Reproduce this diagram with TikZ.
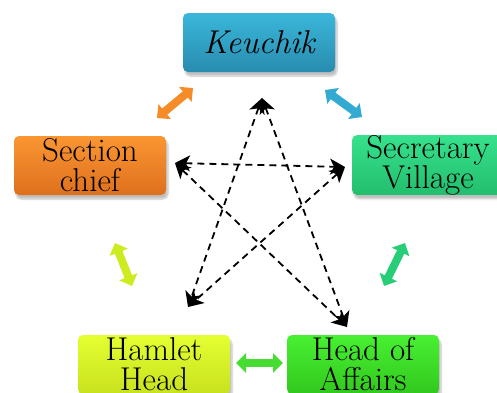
\documentclass[tikz,border=0pt]{standalone}
\usepackage{fontspec}
\setmainfont{Latin Modern Roman}
\usetikzlibrary{arrows.meta,shadows,shadows.blur}
\begin{document}
\begin{tikzpicture}[x=1pt,y=-1pt,
  box/.style={rounded corners=5pt, minimum width=152pt, minimum height=59pt, inner sep=0pt,
    align=center, font=\fontsize{33}{30}\selectfont,
    blur shadow={shadow xshift=2pt, shadow yshift=-4pt, shadow opacity=25, shadow blur steps=6}},
  star/.style={line width=1.8pt, dash pattern=on 7pt off 5pt, {Stealth[length=15pt,width=16pt,inset=4pt]}-{Stealth[length=15pt,width=16pt,inset=4pt]}},
  dbl/.style={line width=8pt, {Triangle[length=10pt,width=19pt]}-{Triangle[length=10pt,width=19pt]}}
]
\useasboundingbox (0,0) rectangle (497,392);
\node[box, top color={rgb,255:red,58;green,183;blue,218}, bottom color={rgb,255:red,40;green,140;blue,175}] (k) at (259,42.5) {\itshape Keuchik};
\node[box, top color={rgb,255:red,250;green,150;blue,50}, bottom color={rgb,255:red,222;green,112;blue,30}] (s) at (90,165.5) {Section\\chief};
\node[box, top color={rgb,255:red,55;green,225;blue,140}, bottom color={rgb,255:red,34;green,190;blue,110}] (v) at (428,165) {Secretary\\Village};
\node[box, top color={rgb,255:red,228;green,255;blue,50}, bottom color={rgb,255:red,200;green,225;blue,30}] (h) at (154,364.5) {Hamlet\\Head};
\node[box, top color={rgb,255:red,72;green,240;blue,50}, bottom color={rgb,255:red,50;green,200;blue,30}] (a) at (363,364.5) {Head of\\Affairs};

\coordinate (pt) at (262,98);
\coordinate (pl) at (175,163);
\coordinate (pr) at (345,167);
\coordinate (pbl) at (188,307);
\coordinate (pbr) at (347,327);
\draw[star] (pt) -- (pbl);
\draw[star] (pt) -- (pbr);
\draw[star] (pl) -- (pr);
\draw[star] (pl) -- (pbr);
\draw[star] (pr) -- (pbl);

\coordinate (o1) at (157,118); \coordinate (o2) at (193,88);
\coordinate (b1) at (325,90); \coordinate (b2) at (362,117);
\coordinate (y1) at (115,243); \coordinate (y2) at (132,286);
\coordinate (g1) at (405,243); \coordinate (g2) at (384,286);
\coordinate (x1) at (236,363); \coordinate (x2) at (283,363);
\draw[dbl, color={rgb,255:red,245;green,140;blue,40}] (o1) -- (o2);
\draw[dbl, color={rgb,255:red,50;green,170;blue,210}] (b1) -- (b2);
\draw[dbl, color={rgb,255:red,205;green,235;blue,30}] (y1) -- (y2);
\draw[dbl, color={rgb,255:red,40;green,205;blue,120}] (g1) -- (g2);
\draw[dbl, color={rgb,255:red,70;green,220;blue,50}] (x1) -- (x2);
\end{tikzpicture}
\end{document}
